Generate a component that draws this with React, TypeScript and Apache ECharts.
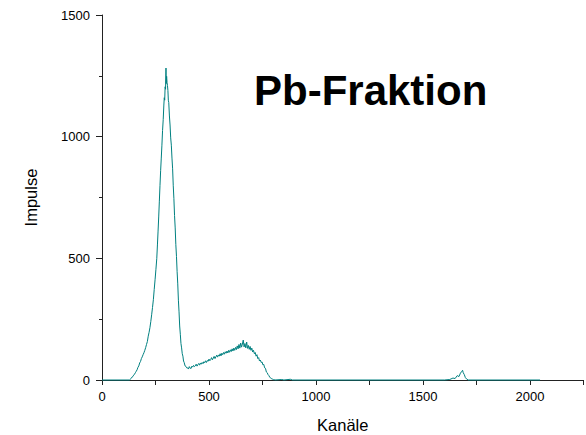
import React, { useEffect, useRef } from "react";
import * as echarts from "echarts";

const titleText = "Pb-Fraktion";
const xAxisName = "Kanäle";
const yAxisName = "Impulse";
const xTickLabels = [0, 500, 1000, 1500, 2000];
const yTickLabels = [0, 500, 1000, 1500];

// Main peak region (channel, counts)
const peakChannels = [
  0, 128, 132, 136, 140, 144, 148, 152, 156, 160, 164, 168, 172, 176, 180, 184, 188, 192, 196, 200,
  204, 208, 212, 216, 220, 224, 228, 232, 236, 240, 244, 248, 252, 256, 259, 262, 265, 268, 271, 274,
  277, 280, 283, 286, 289, 291, 293, 295, 297, 299, 300, 302, 304, 306, 308, 310, 312, 315, 318, 321,
  324, 327, 330, 333, 336, 339, 342, 345, 348, 351, 354, 357, 360, 363, 366, 369, 372, 375, 378, 381,
  384, 388, 392, 396,
];
const peakCounts = [
  0, 0, 3, 6, 12, 14, 20, 24, 30, 36, 42, 52, 58, 70, 76, 88, 95, 104, 112, 122,
  133, 146, 158, 180, 196, 215, 240, 268, 298, 330, 372, 412, 455, 500, 555, 612, 670, 735, 800, 860,
  912, 965, 1025, 1070, 1130, 1160, 1150, 1205, 1195, 1282, 1218, 1248, 1222, 1210, 1190, 1150, 1140, 1085, 1048, 995,
  965, 912, 868, 798, 745, 676, 625, 556, 508, 445, 395, 328, 280, 222, 188, 150, 132, 108, 98, 78,
  72, 58, 56, 50,
];

// Broad hump region
const humpChannels = [
  400, 404, 408, 412, 416, 420, 424, 428, 432, 436, 440, 444, 448, 452, 456, 460, 464, 468, 472, 476,
  480, 484, 488, 492, 496, 500, 504, 508, 512, 516, 520, 524, 528, 532, 536, 540, 544, 548, 552, 556,
  560, 564, 568, 572, 576, 580, 584, 588, 592, 596, 600, 604, 608, 612, 616, 620, 624, 628, 632, 636,
  640, 644, 648, 652, 656, 660, 664, 668, 672, 676, 680, 684, 688, 692, 696, 700, 704, 708, 712, 716,
  720, 724, 728, 732, 736, 740, 744, 748, 752, 756, 760, 764, 768, 772, 776, 780, 784, 788, 792, 796,
  800, 804, 808,
];
const humpCounts = [
  50, 45, 55, 49, 47, 57, 53, 60, 55, 58, 65, 57, 63, 68, 61, 70, 65, 72, 67, 75,
  71, 79, 72, 80, 77, 86, 79, 84, 92, 83, 90, 97, 88, 95, 102, 94, 103, 98, 108, 99,
  110, 104, 113, 106, 116, 110, 119, 111, 122, 114, 124, 117, 128, 119, 131, 122, 134, 125, 140, 128,
  146, 131, 152, 135, 148, 164, 136, 150, 132, 156, 130, 142, 126, 138, 122, 131, 115, 122, 108, 113,
  98, 104, 88, 92, 78, 82, 72, 74, 62, 64, 50, 48, 33, 30, 22, 18, 11, 9, 5, 4,
  1, 2, 0,
];

// Tail and small peak near channel 1680
const tailChannels = [840, 850, 880, 890, 1600, 1625, 1640, 1650, 1660, 1668, 1675, 1680, 1685, 1688, 1693, 1698, 1705, 1712, 2047];
const tailCounts = [2, 0, 3, 0, 0, 2, 8, 6, 18, 14, 28, 34, 40, 30, 22, 10, 3, 0, 0];

export default function App() {
  const ref = useRef<HTMLDivElement>(null);
  useEffect(() => {
    if (!ref.current) return;
    const chart = echarts.init(ref.current, undefined, { renderer: "svg" });
    const channels = [...peakChannels, ...humpChannels, ...tailChannels];
    const counts = [...peakCounts, ...humpCounts, ...tailCounts];
    const data = channels.map((c, i) => [c, counts[i]]);
    const font = "Liberation Sans, Arial, sans-serif";
    chart.setOption({
      animation: false,
      backgroundColor: "#ffffff",
      title: {
        text: titleText,
        left: 249,
        top: 64,
        textStyle: { fontFamily: font, fontSize: 42, fontWeight: "bold", color: "#000" },
      },
      grid: { left: 102, right: 2.5, top: 15, bottom: 55, outerBoundsMode: "none", containLabel: false },
      xAxis: {
        type: "value",
        min: 0,
        max: 2250,
        interval: 250,
        name: xAxisName,
        nameLocation: "middle",
        nameGap: 36,
        nameTextStyle: { fontFamily: font, fontSize: 16.5, color: "#000" },
        axisLine: { show: true, lineStyle: { color: "#222", width: 1 } },
        axisTick: { show: true, length: 5, lineStyle: { color: "#222" } },
        axisLabel: {
          margin: 10,
          fontFamily: font,
          fontSize: 13,
          color: "#000",
          formatter: (v: number) => (xTickLabels.includes(v) ? String(v) : ""),
        },
        splitLine: { show: false },
      },
      yAxis: {
        type: "value",
        min: 0,
        max: 1500,
        interval: 500,
        name: yAxisName,
        nameLocation: "middle",
        nameGap: 63,
        nameTextStyle: { fontFamily: font, fontSize: 16.5, color: "#000" },
        axisLine: { show: true, lineStyle: { color: "#222", width: 1 } },
        axisTick: { show: true, length: 6, lineStyle: { color: "#222" } },
        minorTick: { show: true, splitNumber: 2, length: 3, lineStyle: { color: "#222" } },
        axisLabel: {
          margin: 12,
          fontFamily: font,
          fontSize: 13,
          color: "#000",
          formatter: (v: number) => (yTickLabels.includes(v) ? String(v) : ""),
        },
        splitLine: { show: false },
      },
      series: [
        {
          type: "line",
          data,
          showSymbol: false,
          symbol: "none",
          clip: false,
          lineStyle: { color: "#008080", width: 1 },
          z: 5,
        },
      ],
    });
    return () => chart.dispose();
  }, []);
  return <div ref={ref} style={{ width: 586, height: 435, position: "absolute", left: 0, top: 0 }} />;
}
